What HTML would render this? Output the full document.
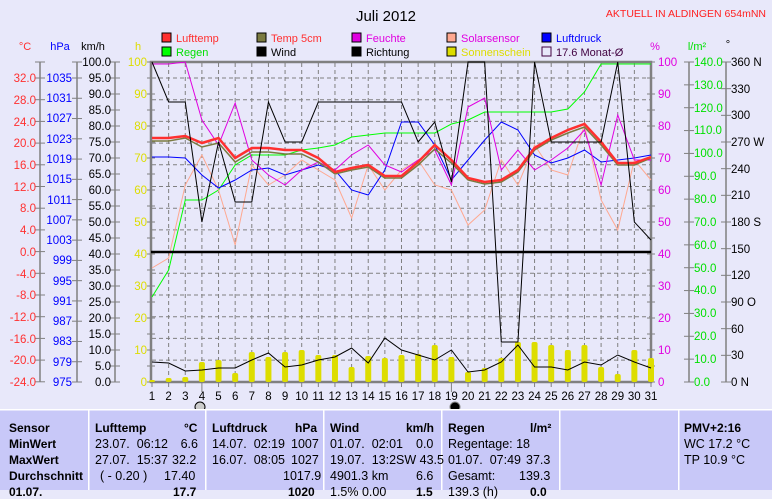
<!DOCTYPE html>
<html><head><meta charset="utf-8"><style>
body{margin:0;width:772px;height:490px;background:#e8e8fa;overflow:hidden;font-family:"Liberation Sans",sans-serif}
svg{position:absolute;left:0;top:0}
.t{position:absolute;font-size:12.5px;color:#000;white-space:nowrap}
.b{font-weight:bold;font-size:12px}
</style></head><body>
<svg width="772" height="490" font-family="Liberation Sans, sans-serif" font-size="12">
<rect x="0" y="0" width="772" height="490" fill="#e8e8fa"/>
<text x="386" y="21" font-size="15" text-anchor="middle">Juli 2012</text>
<text x="766" y="17" font-size="10.5" fill="#ff2020" text-anchor="end">AKTUELL IN ALDINGEN 654mNN</text>
<g font-size="11">
<rect x="162" y="33" width="9" height="9" fill="#ff3030" stroke="#000"/><text x="176" y="42" fill="#ff3030">Lufttemp</text>
<rect x="162" y="47" width="9" height="9" fill="#00ff00" stroke="#000"/><text x="176" y="56" fill="#00e000">Regen</text>
<rect x="257" y="33" width="9" height="9" fill="#7a7a40" stroke="#000"/><text x="271" y="42" fill="#ff3030">Temp 5cm</text>
<rect x="257" y="47" width="9" height="9" fill="#000" stroke="#000"/><text x="271" y="56">Wind</text>
<rect x="352" y="33" width="9" height="9" fill="#e000e0" stroke="#000"/><text x="366" y="42" fill="#e000e0">Feuchte</text>
<rect x="352" y="47" width="9" height="9" fill="#000" stroke="#000"/><text x="366" y="56">Richtung</text>
<rect x="447" y="33" width="9" height="9" fill="#ffa890" stroke="#000"/><text x="461" y="42" fill="#e000e0">Solarsensor</text>
<rect x="447" y="47" width="9" height="9" fill="#dddd00" stroke="#000"/><text x="461" y="56" fill="#dddd00">Sonnenschein</text>
<rect x="542" y="33" width="9" height="9" fill="#0000ff" stroke="#000"/><text x="556" y="42" fill="#0000ff">Luftdruck</text>
<rect x="542" y="47" width="9" height="9" fill="none" stroke="#400040"/><text x="556" y="56" fill="#400040">17.6 Monat-Ø</text>
</g>
<g font-size="11">
<text x="25" y="50" fill="#ff3030" text-anchor="middle">°C</text>
<text x="60" y="50" fill="#0000ff" text-anchor="middle">hPa</text>
<text x="93" y="50" text-anchor="middle">km/h</text>
<text x="138" y="50" fill="#dddd00" text-anchor="middle">h</text>
<text x="655" y="50" fill="#e000e0" text-anchor="middle">%</text>
<text x="697" y="50" fill="#00e000" text-anchor="middle">l/m²</text>
<text x="728" y="48" text-anchor="middle">°</text>
</g>
<g id="grid" stroke="#808080" stroke-dasharray="4,3" stroke-width="1"></g>
<g stroke="#808080" stroke-width="1.5">
<line x1="40" y1="62" x2="40" y2="382"/><line x1="77" y1="62" x2="77" y2="382"/><line x1="115" y1="62" x2="115" y2="382"/>
<line x1="689" y1="62" x2="689" y2="382"/><line x1="726" y1="62" x2="726" y2="382"/>
</g>
<rect x="151" y="62" width="500" height="320" fill="none" stroke="#808080" stroke-width="2.5"/>
<g id="ticks" stroke="#808080"></g>
<g font-size="11.5" text-anchor="end" fill="#ff3030">
<text x="36" y="82">32.0</text><text x="36" y="104">28.0</text><text x="36" y="126">24.0</text><text x="36" y="147">20.0</text><text x="36" y="169">16.0</text><text x="36" y="191">12.0</text><text x="36" y="212">8.0</text><text x="36" y="234">4.0</text><text x="36" y="256">0.0</text><text x="36" y="278">-4.0</text><text x="36" y="299">-8.0</text><text x="36" y="321">-12.0</text><text x="36" y="343">-16.0</text><text x="36" y="364">-20.0</text><text x="36" y="386">-24.0</text>
</g>
<g font-size="11.5" text-anchor="end" fill="#0000ff">
<text x="72" y="82">1035</text><text x="72" y="102">1031</text><text x="72" y="122">1027</text><text x="72" y="143">1023</text><text x="72" y="163">1019</text><text x="72" y="183">1015</text><text x="72" y="204">1011</text><text x="72" y="224">1007</text><text x="72" y="244">1003</text><text x="72" y="264">999</text><text x="72" y="285">995</text><text x="72" y="305">991</text><text x="72" y="325">987</text><text x="72" y="345">983</text><text x="72" y="366">979</text><text x="72" y="386">975</text>
</g>
<g font-size="11.5" text-anchor="end">
<text x="111" y="66">100.0</text><text x="111" y="82">95.0</text><text x="111" y="98">90.0</text><text x="111" y="114">85.0</text><text x="111" y="130">80.0</text><text x="111" y="146">75.0</text><text x="111" y="162">70.0</text><text x="111" y="178">65.0</text><text x="111" y="194">60.0</text><text x="111" y="210">55.0</text><text x="111" y="226">50.0</text><text x="111" y="242">45.0</text><text x="111" y="258">40.0</text><text x="111" y="274">35.0</text><text x="111" y="290">30.0</text><text x="111" y="306">25.0</text><text x="111" y="322">20.0</text><text x="111" y="338">15.0</text><text x="111" y="354">10.0</text><text x="111" y="370">5.0</text><text x="111" y="386">0.0</text>
</g>
<g font-size="11.5" text-anchor="end" fill="#dddd00">
<text x="147" y="66">100</text><text x="147" y="98">90</text><text x="147" y="130">80</text><text x="147" y="162">70</text><text x="147" y="194">60</text><text x="147" y="226">50</text><text x="147" y="258">40</text><text x="147" y="290">30</text><text x="147" y="322">20</text><text x="147" y="354">10</text><text x="147" y="386">0</text>
</g>
<g font-size="11.5" fill="#e000e0">
<text x="658" y="66">100</text><text x="658" y="98">90</text><text x="658" y="130">80</text><text x="658" y="162">70</text><text x="658" y="194">60</text><text x="658" y="226">50</text><text x="658" y="258">40</text><text x="658" y="290">30</text><text x="658" y="322">20</text><text x="658" y="354">10</text><text x="658" y="386">0</text>
</g>
<g font-size="11.5" fill="#00e000">
<text x="694" y="66">140.0</text><text x="694" y="89">130.0</text><text x="694" y="112">120.0</text><text x="694" y="134">110.0</text><text x="694" y="157">100.0</text><text x="694" y="180">90.0</text><text x="694" y="203">80.0</text><text x="694" y="226">70.0</text><text x="694" y="249">60.0</text><text x="694" y="272">50.0</text><text x="694" y="294">40.0</text><text x="694" y="317">30.0</text><text x="694" y="340">20.0</text><text x="694" y="363">10.0</text><text x="694" y="386">0.0</text>
</g>
<g font-size="11.5">
<text x="731" y="66">360 N</text><text x="731" y="93">330</text><text x="731" y="119">300</text><text x="731" y="146">270 W</text><text x="731" y="173">240</text><text x="731" y="199">210</text><text x="731" y="226">180 S</text><text x="731" y="253">150</text><text x="731" y="279">120</text><text x="731" y="306">90  O</text><text x="731" y="333">60</text><text x="731" y="359">30</text><text x="731" y="386">0    N</text>
</g>
<g font-size="11.5" text-anchor="middle">
<text x="152" y="400">1</text><text x="168.6" y="400">2</text><text x="185.3" y="400">3</text><text x="201.9" y="400">4</text><text x="218.5" y="400">5</text><text x="235.2" y="400">6</text><text x="251.8" y="400">7</text><text x="268.4" y="400">8</text><text x="285.1" y="400">9</text><text x="301.7" y="400">10</text><text x="318.3" y="400">11</text><text x="334.9" y="400">12</text><text x="351.6" y="400">13</text><text x="368.2" y="400">14</text><text x="384.8" y="400">15</text><text x="401.5" y="400">16</text><text x="418.1" y="400">17</text><text x="434.7" y="400">18</text><text x="451.4" y="400">19</text><text x="468" y="400">20</text><text x="484.6" y="400">21</text><text x="501.3" y="400">22</text><text x="517.9" y="400">23</text><text x="534.5" y="400">24</text><text x="551.2" y="400">25</text><text x="567.8" y="400">26</text><text x="584.4" y="400">27</text><text x="601.1" y="400">28</text><text x="617.7" y="400">29</text><text x="634.3" y="400">30</text><text x="651" y="400">31</text>
</g>
<circle cx="200" cy="407" r="5" fill="#ccc" stroke="#000"/>
<circle cx="455" cy="407" r="5" fill="#000" stroke="#888"/>
<g id="series"></g>
<line x1="151" y1="252" x2="651" y2="252" stroke="#000" stroke-width="2.5"/>
<rect x="0" y="410" width="772" height="80" fill="#c8c8f8"/>
<rect x="0" y="409" width="772" height="1.5" fill="#fff"/>
<g fill="#fff"><rect x="88" y="410" width="1.5" height="80"/><rect x="205" y="410" width="1.5" height="80"/><rect x="323" y="410" width="1.5" height="80"/><rect x="441" y="410" width="1.5" height="80"/><rect x="559" y="410" width="1.5" height="80"/><rect x="678" y="410" width="1.5" height="80"/></g>
</svg>
<div class="t b" style="left:9px;top:421px">Sensor</div>
<div class="t b" style="left:9px;top:437px">MinWert</div>
<div class="t b" style="left:9px;top:453px">MaxWert</div>
<div class="t b" style="left:9px;top:469px">Durchschnitt</div>
<div class="t b" style="left:9px;top:485px">01.07.</div>
<div class="t b" style="left:95px;top:421px">Lufttemp</div><div class="t b" style="left:184px;top:421px">°C</div>
<div class="t" style="left:95px;top:437px">23.07.&nbsp; 06:12</div><div class="t" style="left:178px;top:437px;width:20px;text-align:right">6.6</div>
<div class="t" style="left:95px;top:453px">27.07.&nbsp; 15:37</div><div class="t" style="left:172px;top:453px">32.2</div>
<div class="t" style="left:100px;top:469px">( - 0.20 )</div><div class="t" style="left:164px;top:469px">17.40</div>
<div class="t b" style="left:173px;top:485px">17.7</div>
<div class="t b" style="left:212px;top:421px">Luftdruck</div><div class="t b" style="left:295px;top:421px">hPa</div>
<div class="t" style="left:212px;top:437px">14.07.&nbsp; 02:19</div><div class="t" style="left:291px;top:437px">1007</div>
<div class="t" style="left:212px;top:453px">16.07.&nbsp; 08:05</div><div class="t" style="left:291px;top:453px">1027</div>
<div class="t" style="left:283px;top:469px">1017.9</div>
<div class="t b" style="left:288px;top:485px">1020</div>
<div class="t b" style="left:330px;top:421px">Wind</div><div class="t b" style="left:406px;top:421px">km/h</div>
<div class="t" style="left:330px;top:437px">01.07.&nbsp; 02:01</div><div class="t" style="left:416px;top:437px">0.0</div>
<div class="t" style="left:330px;top:453px">19.07.&nbsp; 13:2SW 43.5</div>
<div class="t" style="left:330px;top:469px">4901.3 km</div><div class="t" style="left:416px;top:469px">6.6</div>
<div class="t" style="left:330px;top:485px">1.5% 0.00</div><div class="t b" style="left:416px;top:485px">1.5</div>
<div class="t b" style="left:448px;top:421px">Regen</div><div class="t b" style="left:530px;top:421px">l/m²</div>
<div class="t" style="left:448px;top:437px">Regentage: 18</div>
<div class="t" style="left:448px;top:453px">01.07.&nbsp; 07:49</div><div class="t" style="left:526px;top:453px">37.3</div>
<div class="t" style="left:448px;top:469px">Gesamt:</div><div class="t" style="left:519px;top:469px">139.3</div>
<div class="t" style="left:448px;top:485px">139.3 (h)</div><div class="t b" style="left:530px;top:485px">0.0</div>
<div class="t b" style="left:684px;top:421px">PMV+2:16</div>
<div class="t" style="left:684px;top:437px">WC 17.2 °C</div>
<div class="t" style="left:684px;top:453px">TP 10.9 °C</div>
<script>
var NS="http://www.w3.org/2000/svg";
function X(d){return 152+(d-1)*(499/30);}
function el(p,n,a){var e=document.createElementNS(NS,n);for(var k in a)e.setAttribute(k,a[k]);p.appendChild(e);return e;}
var g=document.getElementById('grid');
for(var d=2;d<=30;d++)el(g,'line',{x1:X(d),y1:63,x2:X(d),y2:381});
for(var i=0;i<14;i++){var y=78+i*21.7;el(g,'line',{x1:152,y1:y,x2:650,y2:y});}
var t=document.getElementById('ticks');
for(var i=0;i<=14;i++){var y=78+i*21.7;el(t,'line',{x1:35,y1:y,x2:45,y2:y});}
for(var i=0;i<=15;i++){var y=78+i*304/15;el(t,'line',{x1:72,y1:y,x2:82,y2:y});}
el(t,'line',{x1:35,y1:62,x2:45,y2:62});el(t,'line',{x1:72,y1:62,x2:82,y2:62});
for(var i=0;i<=20;i++){var y=62+i*16;el(t,'line',{x1:110,y1:y,x2:120,y2:y});}
for(var i=0;i<=20;i++){var y=62+i*16;el(t,'line',{x1:147,y1:y,x2:155,y2:y});el(t,'line',{x1:647,y1:y,x2:655,y2:y});}
for(var i=0;i<=14;i++){var y=62+i*320/14;el(t,'line',{x1:684,y1:y,x2:694,y2:y});}
for(var i=0;i<=12;i++){var y=62+i*320/12;el(t,'line',{x1:721,y1:y,x2:731,y2:y});}
for(var d=1;d<=31;d++)el(t,'line',{x1:X(d),y1:382,x2:X(d),y2:d==4||d==19?392:387});
var s=document.getElementById('series');
var sun=[380,378,377,362,360,373,352,357,352,350,355,355,367,356,358,355,354,345,357,372,368,358,342,342,345,350,345,367,374,350,358];
sun.forEach(function(v,i){el(s,'rect',{x:X(i+1)-3,y:v,width:6,height:382-v,fill:'#dddd00',rx:2});});
function line(a,c,w){el(s,'polyline',{points:a.map(function(v,i){return X(i+1)+','+v;}).join(' '),fill:'none',stroke:c,'stroke-width':w});}
line([297,270,200,200,190,165,155,155,155,150,148,145,137,135,133,133,133,133,124,120,112,112,112,112,112,109,92,64,64,64,64],'#00ff00',1);
line([268,258,185,155,190,245,165,185,175,160,170,180,218,165,190,170,160,185,190,225,210,160,185,145,170,175,125,200,230,160,180],'#ffa890',1);
line([157,157,158,175,188,180,170,168,175,170,165,170,190,195,170,122,122,145,180,160,140,122,130,155,163,158,150,162,160,158,155],'#0000ff',1);
line([64,64,62,120,145,103,160,175,185,170,162,170,155,145,165,172,160,150,185,107,98,170,150,170,160,148,130,185,115,160,160],'#e000e0',1);
line([141,141,138,147,143,162,152,152,154,154,162,174,170,167,178,178,165,149,163,180,184,182,172,150,140,133,127,145,165,165,158],'#7a7a40',1.5);
line([138,138,136,143,138,158,148,148,150,150,158,172,168,165,176,176,162,145,160,178,182,180,170,148,138,130,124,142,163,163,157],'#ff3030',2.5);
line([62,102,102,222,142,202,202,102,142,142,102,102,102,102,102,102,142,122,182,62,62,342,342,62,142,142,142,142,62,222,240],'#000',1);
line([362,363,371,370,368,368,360,353,367,365,360,357,348,363,338,350,355,360,350,372,370,362,345,367,367,370,362,365,355,362,368],'#000',1);
</script>
</body></html>
